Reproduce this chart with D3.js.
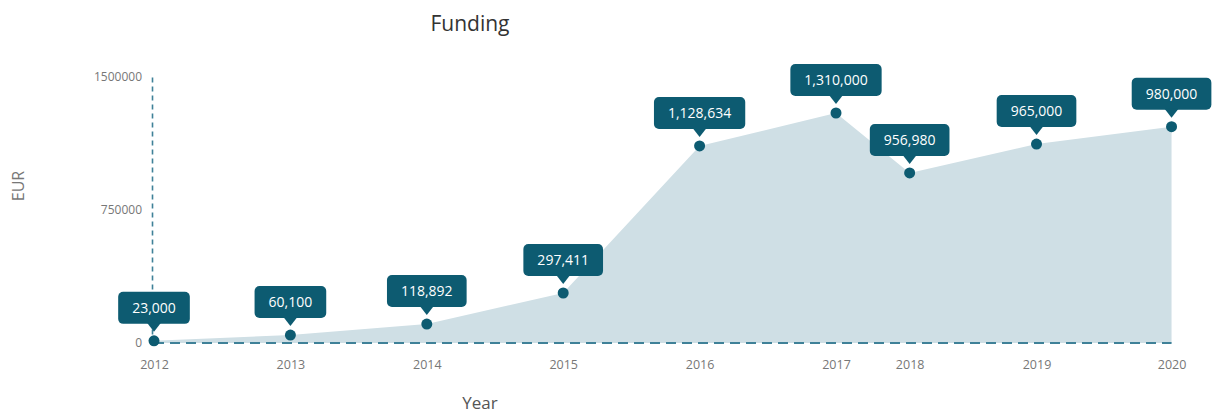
<!DOCTYPE html>
<html>
<head>
<meta charset="utf-8">
<script src="https://cdn.jsdelivr.net/npm/d3@7"></script>
<style>
  body { margin: 0; background: #fff; }
  svg { font-family: "Open Sans", "Noto Sans", sans-serif; }
</style>
</head>
<body>
<div id="chart"></div>
<script>
// data
const years = ['2012', '2013', '2014', '2015', '2016', '2017', '2018', '2019', '2020'];
// horizontal place of each year on the axis (the source spaces them unevenly)
const yearPos = [2012, 2013, 2014, 2015, 2016, 2017, 2017.54, 2018.47, 2019.46];
// heights as plotted
const values = [12000, 45000, 107000, 282000, 1111000, 1297000, 959000, 1122000, 1220000];
// callout texts
const labels = ['23,000', '60,100', '118,892', '297,411', '1,128,634', '1,310,000', '956,980', '965,000', '980,000'];
const yTicks = [0, 750000, 1500000];

const width = 1217, height = 414;
const margin = { top: 77, bottom: 71, left: 154, right: 46 };
const dark = '#0d5b71', dash = '#3f8198', fill = '#cfdfe5';
const font = '"Open Sans", "Noto Sans", sans-serif';

const data = years.map((y, i) => ({ year: y, pos: yearPos[i], value: values[i], label: labels[i] }));

const svg = d3.select('#chart').append('svg').attr('width', width).attr('height', height);

const x = d3.scaleLinear().domain([2012, 2017]).range([margin.left, 836]);
const y = d3.scaleLinear().domain([0, 1500000]).range([height - margin.bottom, margin.top]);

// title
svg.append('text')
  .text('Funding')
  .attr('x', 470).attr('y', 31)
  .attr('text-anchor', 'middle')
  .attr('font-size', 21)
  .attr('fill', '#333');

// area
const area = d3.area().x(d => x(d.pos)).y0(y(0)).y1(d => y(d.value));
svg.append('path')
  .datum(data)
  .attr('d', area)
  .attr('fill', fill);

// y axis (dashed line, labels only)
const yAxis = d3.axisLeft(y).tickValues(yTicks).tickSize(0).tickPadding(10).tickFormat(d3.format('d'));
const gy = svg.append('g')
  .attr('transform', `translate(${x(2012) - 2},0)`)
  .call(yAxis)
  .attr('font-family', font);
gy.select('.domain')
  .attr('stroke', dash)
  .attr('stroke-width', 1.6)
  .attr('stroke-dasharray', '5,4');
gy.selectAll('text').attr('font-size', 12).attr('fill', '#777');

// x axis
const xAxis = d3.axisBottom(x).tickValues(yearPos).tickSize(0).tickPadding(17)
  .tickFormat((d, i) => years[i]);
const gx = svg.append('g')
  .attr('transform', `translate(0,${y(0)})`)
  .call(xAxis)
  .attr('font-family', font);
gx.select('.domain').remove();
gx.selectAll('text').attr('font-size', 12.5).attr('fill', '#777');

// dashed baseline
svg.append('line')
  .attr('x1', x(2012)).attr('x2', x(yearPos[yearPos.length - 1]))
  .attr('y1', y(0)).attr('y2', y(0))
  .attr('stroke', dash)
  .attr('stroke-width', 2)
  .attr('stroke-dasharray', '10,6');

// axis titles
svg.append('text')
  .text('Year')
  .attr('x', 480).attr('y', 409)
  .attr('text-anchor', 'middle')
  .attr('font-size', 17)
  .attr('fill', '#555');

svg.append('text')
  .text('EUR')
  .attr('transform', 'translate(24,186) rotate(-90)')
  .attr('text-anchor', 'middle')
  .attr('font-size', 16)
  .attr('fill', '#777');

// points
svg.selectAll('circle.point')
  .data(data)
  .enter().append('circle')
  .classed('point', true)
  .attr('cx', d => x(d.pos))
  .attr('cy', d => y(d.value))
  .attr('r', 5.5)
  .attr('fill', dark);

// callouts
const callouts = svg.selectAll('g.callout')
  .data(data)
  .enter().append('g')
  .classed('callout', true)
  .attr('transform', d => `translate(${x(d.pos)},${y(d.value)})`);

const boxH = 32, gapB = 17, pad = 14;

callouts.each(function (d) {
  const g = d3.select(this);
  const t = g.append('text')
    .text(d.label)
    .attr('text-anchor', 'middle')
    .attr('font-size', 14)
    .attr('fill', '#fff')
    .attr('y', -gapB - boxH / 2)
    .attr('dy', '0.35em');
  const w = t.node().getComputedTextLength() + pad * 2;
  g.insert('rect', 'text')
    .attr('x', -w / 2)
    .attr('y', -gapB - boxH)
    .attr('width', w)
    .attr('height', boxH)
    .attr('rx', 5)
    .attr('fill', dark);
  g.insert('path', 'text')
    .attr('d', `M-7,${-gapB - 1}L0,${-gapB + 8}L7,${-gapB - 1}Z`)
    .attr('fill', dark);
});
</script>
</body>
</html>
